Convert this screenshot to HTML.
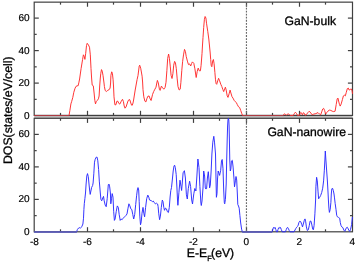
<!DOCTYPE html>
<html><head><meta charset="utf-8"><style>
html,body{margin:0;padding:0;background:#fff;}
body{width:357px;height:262px;overflow:hidden;}
svg{display:block;will-change:transform;}
text{font-family:"Liberation Sans",sans-serif;fill:#000;text-rendering:geometricPrecision;}
.tl{font-size:10px;stroke:#000;stroke-width:0.2px;}
.lg{font-size:12.2px;stroke:#000;stroke-width:0.3px;}
</style></head><body>
<svg width="357" height="262" viewBox="0 0 357 262">
<rect x="34.2" y="115.4" width="318.30" height="2.90" fill="#bdbdbd"/>
<rect x="34.2" y="2.15" width="318.30" height="113.25" fill="none" stroke="#404040" stroke-width="1.2"/>
<line x1="60.50" y1="115.4" x2="60.50" y2="112.9" stroke="#404040" stroke-width="1.2"/>
<line x1="60.50" y1="2.15" x2="60.50" y2="4.65" stroke="#404040" stroke-width="1.2"/>
<line x1="87.50" y1="115.4" x2="87.50" y2="110.80000000000001" stroke="#404040" stroke-width="1.2"/>
<line x1="87.50" y1="2.15" x2="87.50" y2="6.75" stroke="#404040" stroke-width="1.2"/>
<line x1="113.50" y1="115.4" x2="113.50" y2="112.9" stroke="#404040" stroke-width="1.2"/>
<line x1="113.50" y1="2.15" x2="113.50" y2="4.65" stroke="#404040" stroke-width="1.2"/>
<line x1="140.50" y1="115.4" x2="140.50" y2="110.80000000000001" stroke="#404040" stroke-width="1.2"/>
<line x1="140.50" y1="2.15" x2="140.50" y2="6.75" stroke="#404040" stroke-width="1.2"/>
<line x1="166.50" y1="115.4" x2="166.50" y2="112.9" stroke="#404040" stroke-width="1.2"/>
<line x1="166.50" y1="2.15" x2="166.50" y2="4.65" stroke="#404040" stroke-width="1.2"/>
<line x1="193.50" y1="115.4" x2="193.50" y2="110.80000000000001" stroke="#404040" stroke-width="1.2"/>
<line x1="193.50" y1="2.15" x2="193.50" y2="6.75" stroke="#404040" stroke-width="1.2"/>
<line x1="219.50" y1="115.4" x2="219.50" y2="112.9" stroke="#404040" stroke-width="1.2"/>
<line x1="219.50" y1="2.15" x2="219.50" y2="4.65" stroke="#404040" stroke-width="1.2"/>
<line x1="246.50" y1="115.4" x2="246.50" y2="110.80000000000001" stroke="#404040" stroke-width="1.2"/>
<line x1="246.50" y1="2.15" x2="246.50" y2="6.75" stroke="#404040" stroke-width="1.2"/>
<line x1="272.50" y1="115.4" x2="272.50" y2="112.9" stroke="#404040" stroke-width="1.2"/>
<line x1="272.50" y1="2.15" x2="272.50" y2="4.65" stroke="#404040" stroke-width="1.2"/>
<line x1="299.50" y1="115.4" x2="299.50" y2="110.80000000000001" stroke="#404040" stroke-width="1.2"/>
<line x1="299.50" y1="2.15" x2="299.50" y2="6.75" stroke="#404040" stroke-width="1.2"/>
<line x1="325.50" y1="115.4" x2="325.50" y2="112.9" stroke="#404040" stroke-width="1.2"/>
<line x1="325.50" y1="2.15" x2="325.50" y2="4.65" stroke="#404040" stroke-width="1.2"/>
<line x1="34.2" y1="99.35" x2="36.7" y2="99.35" stroke="#404040" stroke-width="1.2"/>
<line x1="352.5" y1="99.35" x2="350.0" y2="99.35" stroke="#404040" stroke-width="1.2"/>
<line x1="34.2" y1="83.10" x2="38.800000000000004" y2="83.10" stroke="#404040" stroke-width="1.2"/>
<line x1="352.5" y1="83.10" x2="347.9" y2="83.10" stroke="#404040" stroke-width="1.2"/>
<line x1="34.2" y1="66.85" x2="36.7" y2="66.85" stroke="#404040" stroke-width="1.2"/>
<line x1="352.5" y1="66.85" x2="350.0" y2="66.85" stroke="#404040" stroke-width="1.2"/>
<line x1="34.2" y1="50.60" x2="38.800000000000004" y2="50.60" stroke="#404040" stroke-width="1.2"/>
<line x1="352.5" y1="50.60" x2="347.9" y2="50.60" stroke="#404040" stroke-width="1.2"/>
<line x1="34.2" y1="34.35" x2="36.7" y2="34.35" stroke="#404040" stroke-width="1.2"/>
<line x1="352.5" y1="34.35" x2="350.0" y2="34.35" stroke="#404040" stroke-width="1.2"/>
<line x1="34.2" y1="18.10" x2="38.800000000000004" y2="18.10" stroke="#404040" stroke-width="1.2"/>
<line x1="352.5" y1="18.10" x2="347.9" y2="18.10" stroke="#404040" stroke-width="1.2"/>
<text x="29.6" y="118.60" text-anchor="end" class="tl">0</text>
<text x="29.6" y="86.10" text-anchor="end" class="tl">20</text>
<text x="29.6" y="53.60" text-anchor="end" class="tl">40</text>
<text x="29.6" y="21.10" text-anchor="end" class="tl">60</text>
<line x1="246.45" y1="2.15" x2="246.45" y2="115.4" stroke="#6a6a6a" stroke-width="1.15" stroke-dasharray="1.8 1.25" stroke-dashoffset="0.6"/>
<rect x="34.2" y="118.3" width="318.30" height="113.50" fill="none" stroke="#404040" stroke-width="1.2"/>
<line x1="60.50" y1="231.8" x2="60.50" y2="229.3" stroke="#404040" stroke-width="1.2"/>
<line x1="60.50" y1="118.3" x2="60.50" y2="120.8" stroke="#404040" stroke-width="1.2"/>
<line x1="87.50" y1="231.8" x2="87.50" y2="227.20000000000002" stroke="#404040" stroke-width="1.2"/>
<line x1="87.50" y1="118.3" x2="87.50" y2="122.89999999999999" stroke="#404040" stroke-width="1.2"/>
<line x1="113.50" y1="231.8" x2="113.50" y2="229.3" stroke="#404040" stroke-width="1.2"/>
<line x1="113.50" y1="118.3" x2="113.50" y2="120.8" stroke="#404040" stroke-width="1.2"/>
<line x1="140.50" y1="231.8" x2="140.50" y2="227.20000000000002" stroke="#404040" stroke-width="1.2"/>
<line x1="140.50" y1="118.3" x2="140.50" y2="122.89999999999999" stroke="#404040" stroke-width="1.2"/>
<line x1="166.50" y1="231.8" x2="166.50" y2="229.3" stroke="#404040" stroke-width="1.2"/>
<line x1="166.50" y1="118.3" x2="166.50" y2="120.8" stroke="#404040" stroke-width="1.2"/>
<line x1="193.50" y1="231.8" x2="193.50" y2="227.20000000000002" stroke="#404040" stroke-width="1.2"/>
<line x1="193.50" y1="118.3" x2="193.50" y2="122.89999999999999" stroke="#404040" stroke-width="1.2"/>
<line x1="219.50" y1="231.8" x2="219.50" y2="229.3" stroke="#404040" stroke-width="1.2"/>
<line x1="219.50" y1="118.3" x2="219.50" y2="120.8" stroke="#404040" stroke-width="1.2"/>
<line x1="246.50" y1="231.8" x2="246.50" y2="227.20000000000002" stroke="#404040" stroke-width="1.2"/>
<line x1="246.50" y1="118.3" x2="246.50" y2="122.89999999999999" stroke="#404040" stroke-width="1.2"/>
<line x1="272.50" y1="231.8" x2="272.50" y2="229.3" stroke="#404040" stroke-width="1.2"/>
<line x1="272.50" y1="118.3" x2="272.50" y2="120.8" stroke="#404040" stroke-width="1.2"/>
<line x1="299.50" y1="231.8" x2="299.50" y2="227.20000000000002" stroke="#404040" stroke-width="1.2"/>
<line x1="299.50" y1="118.3" x2="299.50" y2="122.89999999999999" stroke="#404040" stroke-width="1.2"/>
<line x1="325.50" y1="231.8" x2="325.50" y2="229.3" stroke="#404040" stroke-width="1.2"/>
<line x1="325.50" y1="118.3" x2="325.50" y2="120.8" stroke="#404040" stroke-width="1.2"/>
<line x1="34.2" y1="215.65" x2="36.7" y2="215.65" stroke="#404040" stroke-width="1.2"/>
<line x1="352.5" y1="215.65" x2="350.0" y2="215.65" stroke="#404040" stroke-width="1.2"/>
<line x1="34.2" y1="199.40" x2="38.800000000000004" y2="199.40" stroke="#404040" stroke-width="1.2"/>
<line x1="352.5" y1="199.40" x2="347.9" y2="199.40" stroke="#404040" stroke-width="1.2"/>
<line x1="34.2" y1="183.15" x2="36.7" y2="183.15" stroke="#404040" stroke-width="1.2"/>
<line x1="352.5" y1="183.15" x2="350.0" y2="183.15" stroke="#404040" stroke-width="1.2"/>
<line x1="34.2" y1="166.90" x2="38.800000000000004" y2="166.90" stroke="#404040" stroke-width="1.2"/>
<line x1="352.5" y1="166.90" x2="347.9" y2="166.90" stroke="#404040" stroke-width="1.2"/>
<line x1="34.2" y1="150.65" x2="36.7" y2="150.65" stroke="#404040" stroke-width="1.2"/>
<line x1="352.5" y1="150.65" x2="350.0" y2="150.65" stroke="#404040" stroke-width="1.2"/>
<line x1="34.2" y1="134.40" x2="38.800000000000004" y2="134.40" stroke="#404040" stroke-width="1.2"/>
<line x1="352.5" y1="134.40" x2="347.9" y2="134.40" stroke="#404040" stroke-width="1.2"/>
<text x="29.6" y="234.90" text-anchor="end" class="tl">0</text>
<text x="29.6" y="202.40" text-anchor="end" class="tl">20</text>
<text x="29.6" y="169.90" text-anchor="end" class="tl">40</text>
<text x="29.6" y="137.40" text-anchor="end" class="tl">60</text>
<line x1="246.45" y1="118.3" x2="246.45" y2="231.8" stroke="#6a6a6a" stroke-width="1.15" stroke-dasharray="1.8 1.25" stroke-dashoffset="1.55"/>
<polyline points="34.2,115.5 69.0,115.5 69.9,110.4 70.9,103.9 71.6,101.7 72.8,97.4 73.8,92.3 74.9,88.7 75.9,86.5 77.1,85.8 78.1,85.8 78.8,82.9 79.6,79.0 81.1,68.5 82.6,59.4 83.4,54.8 84.2,56.3 84.9,59.4 85.7,53.3 86.5,45.6 87.2,43.3 88.4,44.9 89.5,47.2 90.3,54.8 91.0,68.5 91.6,78.0 92.2,85.1 93.3,85.8 94.1,93.0 94.8,100.3 95.5,103.9 96.2,101.7 97.4,100.3 98.4,98.8 99.1,96.0 99.7,86.0 100.3,78.0 100.8,73.3 101.5,69.6 102.2,71.1 103.0,75.4 104.0,83.0 104.4,86.5 105.2,90.5 106.4,91.5 107.8,90.3 109.3,89.5 110.1,88.0 110.6,83.0 110.9,75.4 111.7,71.8 112.4,73.3 113.1,79.8 113.5,86.0 114.0,96.8 114.9,104.8 115.9,104.8 116.9,101.2 117.8,101.2 118.8,103.4 119.8,104.1 121.3,101.2 122.5,99.3 123.4,101.5 124.2,106.0 125.0,108.2 126.0,107.0 127.0,104.0 128.0,101.0 129.0,99.5 129.8,99.8 130.8,103.0 131.6,105.2 132.3,105.2 133.0,103.0 133.6,100.0 134.4,95.0 135.2,90.0 136.1,85.0 137.1,79.5 138.0,75.5 139.2,66.2 139.7,65.2 140.7,68.2 142.1,76.2 142.6,82.0 143.0,89.6 143.8,96.8 144.9,101.2 145.9,101.9 147.0,98.3 148.0,96.1 149.2,96.1 150.2,99.0 151.1,100.5 152.6,94.3 153.7,91.5 154.9,89.2 156.0,87.2 156.8,83.0 157.4,80.4 158.3,82.9 159.5,89.7 160.1,90.4 161.4,86.1 162.6,87.8 163.8,89.2 165.1,87.4 166.0,82.3 166.9,70.3 167.7,58.3 168.6,54.0 169.4,58.3 170.3,66.9 171.1,75.4 172.0,78.5 172.9,73.7 173.7,65.2 174.6,61.4 175.4,62.6 176.3,68.6 177.2,78.9 178.0,86.6 179.2,90.0 180.2,89.2 180.9,82.3 181.8,70.3 182.6,61.7 183.5,54.9 184.5,49.4 185.4,51.4 186.2,56.4 187.6,61.9 188.5,64.6 189.6,63.9 190.7,66.0 191.6,63.5 192.4,61.9 193.8,63.3 194.9,68.8 195.5,73.0 196.2,77.5 197.2,71.5 198.2,68.1 199.3,70.8 200.4,70.8 201.1,65.3 202.0,53.7 202.5,45.0 203.0,37.5 203.7,27.4 204.4,19.4 205.1,16.5 205.9,18.0 206.6,23.8 207.8,31.7 208.8,39.0 209.5,46.0 210.2,53.0 210.7,59.5 211.2,65.3 211.8,66.7 212.7,61.0 213.4,59.5 214.1,63.8 214.9,72.5 215.5,79.8 216.1,83.6 216.7,84.3 217.7,81.0 218.6,78.3 219.6,80.8 220.8,84.3 221.8,86.5 222.8,89.4 223.7,91.6 224.7,88.7 225.4,87.2 226.2,90.1 227.2,95.9 228.0,97.4 229.1,93.8 230.1,90.1 230.9,93.0 232.0,96.7 233.0,98.1 234.1,100.3 235.3,101.7 236.3,102.5 237.3,104.6 238.5,106.8 239.6,107.5 240.7,110.4 241.7,113.3 242.5,115.5 283.0,115.5 283.8,114.3 284.7,113.9 285.6,114.5 286.4,115.3 287.2,114.3 288.3,113.9 289.4,114.5 290.2,115.4 293.3,115.4 294.2,113.8 295.4,112.2 296.5,113.5 297.4,115.3 299.5,115.3 300.2,113.5 300.9,112.4 301.8,113.8 302.4,114.8 303.3,112.7 304.2,113.2 305.0,115.0 306.0,115.2 306.4,114.5 307.9,112.6 309.3,111.2 310.8,113.0 312.2,114.8 313.7,114.1 315.9,113.6 318.0,112.6 319.5,114.1 320.7,114.8 321.7,111.9 322.7,109.0 323.6,108.3 324.6,110.4 325.6,114.1 326.7,112.6 327.9,111.2 329.3,110.1 330.8,110.4 332.2,111.2 333.7,111.6 335.1,111.2 336.2,104.6 337.2,98.8 338.0,98.1 338.6,101.0 339.5,104.6 340.2,106.1 341.2,103.9 342.4,99.6 343.4,95.9 344.4,95.2 345.3,95.9 346.3,92.3 347.3,88.7 348.2,88.0 349.2,90.1 350.2,89.4 351.4,89.0 352.1,90.9 352.5,93.8" fill="none" stroke="#ff2a2a" stroke-width="0.95" stroke-linejoin="round"/>
<polyline points="34.2,232.0 76.5,232.0 77.4,229.5 78.6,228.0 79.6,227.6 80.3,228.3 81.3,227.2 82.0,226.2 82.9,224.0 83.5,218.2 83.9,209.5 84.3,203.7 84.9,198.6 85.5,193.0 86.1,184.0 86.8,176.0 87.5,173.6 88.3,176.7 89.0,184.0 89.5,189.0 90.2,194.4 90.9,191.0 91.6,187.5 92.6,185.5 93.1,183.0 93.8,173.8 94.5,162.2 95.2,159.3 96.2,157.2 97.1,157.2 97.8,160.8 98.6,169.5 99.3,181.1 100.3,193.0 100.9,199.3 101.7,200.8 102.8,197.9 103.5,196.4 104.2,200.8 105.2,205.1 106.2,206.7 107.2,198.7 108.3,184.7 109.0,184.0 109.7,186.9 110.4,193.0 110.8,203.8 111.5,198.7 112.2,193.6 113.0,197.2 113.7,211.7 114.4,220.4 115.1,219.0 116.2,211.7 117.3,205.9 118.3,207.4 119.2,214.6 120.2,220.4 121.2,219.0 122.1,219.7 123.1,218.3 124.6,216.8 126.0,215.4 127.0,213.9 127.9,208.8 128.9,203.8 129.9,205.9 130.8,208.8 131.8,209.6 132.8,214.6 133.7,219.0 134.7,214.6 135.7,204.5 136.6,195.8 137.3,190.0 138.0,187.6 138.7,190.0 139.2,201.6 139.8,216.1 140.5,224.8 141.2,221.9 142.0,213.2 143.0,207.4 143.8,213.2 144.6,216.8 145.6,207.4 146.7,198.7 147.8,195.1 148.8,197.2 149.5,200.0 151.3,200.7 152.5,201.6 153.2,201.0 154.3,202.5 155.5,204.0 156.6,203.2 157.6,204.0 158.1,206.5 158.7,213.2 159.6,219.7 160.4,216.1 161.3,207.4 162.3,200.1 163.0,201.6 163.8,207.4 164.5,210.3 165.5,208.1 166.4,208.8 167.4,211.7 168.4,212.5 169.3,207.4 170.1,197.0 170.8,190.5 171.5,187.5 172.3,180.0 173.2,171.0 174.0,166.0 174.6,165.2 175.3,167.5 176.2,174.5 176.9,187.0 177.5,200.0 177.9,205.3 178.9,192.7 180.0,180.2 181.0,186.4 181.6,190.5 182.2,184.0 183.1,172.8 184.4,170.7 185.4,178.0 186.4,194.8 187.3,199.0 188.3,188.5 189.6,181.2 190.6,186.4 191.7,200.0 192.5,204.0 193.8,193.8 194.8,188.5 195.9,191.0 196.9,176.0 197.9,159.0 199.0,167.6 199.9,186.4 200.9,203.2 201.3,205.5 202.0,201.0 203.0,188.0 203.7,171.0 204.6,176.0 205.3,188.0 205.9,189.0 206.6,188.6 207.4,178.0 208.3,171.7 209.0,180.0 209.6,187.9 210.3,185.0 211.2,170.0 211.9,154.0 212.8,142.1 213.8,136.3 214.5,142.1 215.5,154.0 216.0,179.0 216.4,197.3 217.0,193.7 217.5,179.0 218.2,171.0 218.9,173.2 219.6,175.4 220.7,170.3 221.5,160.9 222.2,159.5 223.0,168.8 223.7,190.0 224.3,202.4 224.7,203.8 225.4,199.5 226.2,184.0 226.7,160.0 227.2,140.0 227.6,126.0 228.0,119.5 228.4,118.4 228.8,120.0 229.1,126.0 229.4,140.0 229.8,161.0 230.3,171.0 230.9,168.8 231.4,161.1 232.3,160.3 233.1,167.1 234.0,179.1 234.5,186.8 235.4,180.8 236.0,176.5 236.7,180.0 237.4,195.0 237.8,204.5 238.5,206.0 239.2,208.2 239.9,215.4 240.7,223.0 241.6,229.1 242.4,232.0 272.0,232.0 272.6,230.0 273.3,227.8 274.0,227.3 274.5,228.3 275.1,227.5 275.8,229.5 276.5,231.8 277.4,231.8 278.0,229.5 278.7,227.8 279.3,227.4 279.9,228.3 280.5,227.5 281.3,229.5 282.2,231.8 285.4,231.8 286.3,229.5 287.0,227.8 287.7,227.5 288.4,228.5 289.2,230.5 290.0,231.8 294.0,231.8 295.0,230.0 295.8,228.5 296.7,227.2 297.5,226.4 298.2,225.2 298.9,222.5 299.9,221.1 300.8,221.8 301.8,224.7 302.5,226.9 303.3,224.0 304.3,220.4 305.0,218.9 305.7,221.8 306.4,226.9 307.3,230.5 308.3,229.8 309.3,225.4 310.1,221.1 310.9,221.1 311.7,224.0 312.7,229.1 313.4,229.8 314.1,225.4 314.9,213.8 315.6,200.0 315.9,186.7 316.6,177.3 317.3,180.9 318.0,191.1 318.6,198.8 319.5,197.6 320.7,195.4 321.7,192.5 322.7,188.2 323.6,180.9 324.3,170.8 324.9,160.0 325.3,151.0 325.9,160.0 326.6,170.0 327.4,181.0 328.0,192.0 328.4,200.0 328.9,208.1 329.4,212.4 330.2,209.5 330.9,202.3 331.3,194.0 331.8,188.9 332.5,188.2 333.3,190.4 334.0,194.0 334.5,197.9 335.2,203.7 336.0,209.5 336.7,215.3 337.4,216.8 338.6,217.5 339.7,218.3 340.3,222.6 341.0,225.5 341.8,226.9 342.9,227.7 343.9,230.2 344.9,231.3 346.1,228.2 347.2,227.2 348.2,228.8 349.1,230.8 349.8,231.3 350.5,229.5 351.1,227.0 351.6,224.5 352.1,220.0 352.4,217.0" fill="none" stroke="#2a2aff" stroke-width="0.95" stroke-linejoin="round"/>
<line x1="34.2" y1="115.55" x2="69.3" y2="115.55" stroke="#a83c44" stroke-width="1.0"/>
<line x1="242.3" y1="115.55" x2="283.5" y2="115.55" stroke="#a83c44" stroke-width="1.0"/>
<line x1="34.2" y1="232.0" x2="76.9" y2="232.0" stroke="#6262ae" stroke-width="1.5"/>
<line x1="242.2" y1="232.0" x2="272.3" y2="232.0" stroke="#6262ae" stroke-width="1.5"/>
<text x="34.40" y="244.8" text-anchor="middle" class="tl">-8</text>
<text x="87.40" y="244.8" text-anchor="middle" class="tl">-6</text>
<text x="140.40" y="244.8" text-anchor="middle" class="tl">-4</text>
<text x="193.40" y="244.8" text-anchor="middle" class="tl">-2</text>
<text x="246.40" y="244.8" text-anchor="middle" class="tl">0</text>
<text x="299.40" y="244.8" text-anchor="middle" class="tl">2</text>
<text x="352.40" y="244.8" text-anchor="middle" class="tl">4</text>
<text x="284.5" y="25.1" class="lg">GaN-bulk</text>
<text x="267.4" y="136.1" class="lg">GaN-nanowire</text>
<text x="186.8" y="256.8" class="lg">E-E<tspan font-size="7.5" dy="4.2">F</tspan><tspan dy="-4.2" dx="-0.6">(eV)</tspan></text>
<text transform="translate(11.9,110.2) rotate(-90)" text-anchor="middle" class="lg" style="font-size:12.25px">DOS(states/eV/cell)</text>
</svg>
</body></html>
